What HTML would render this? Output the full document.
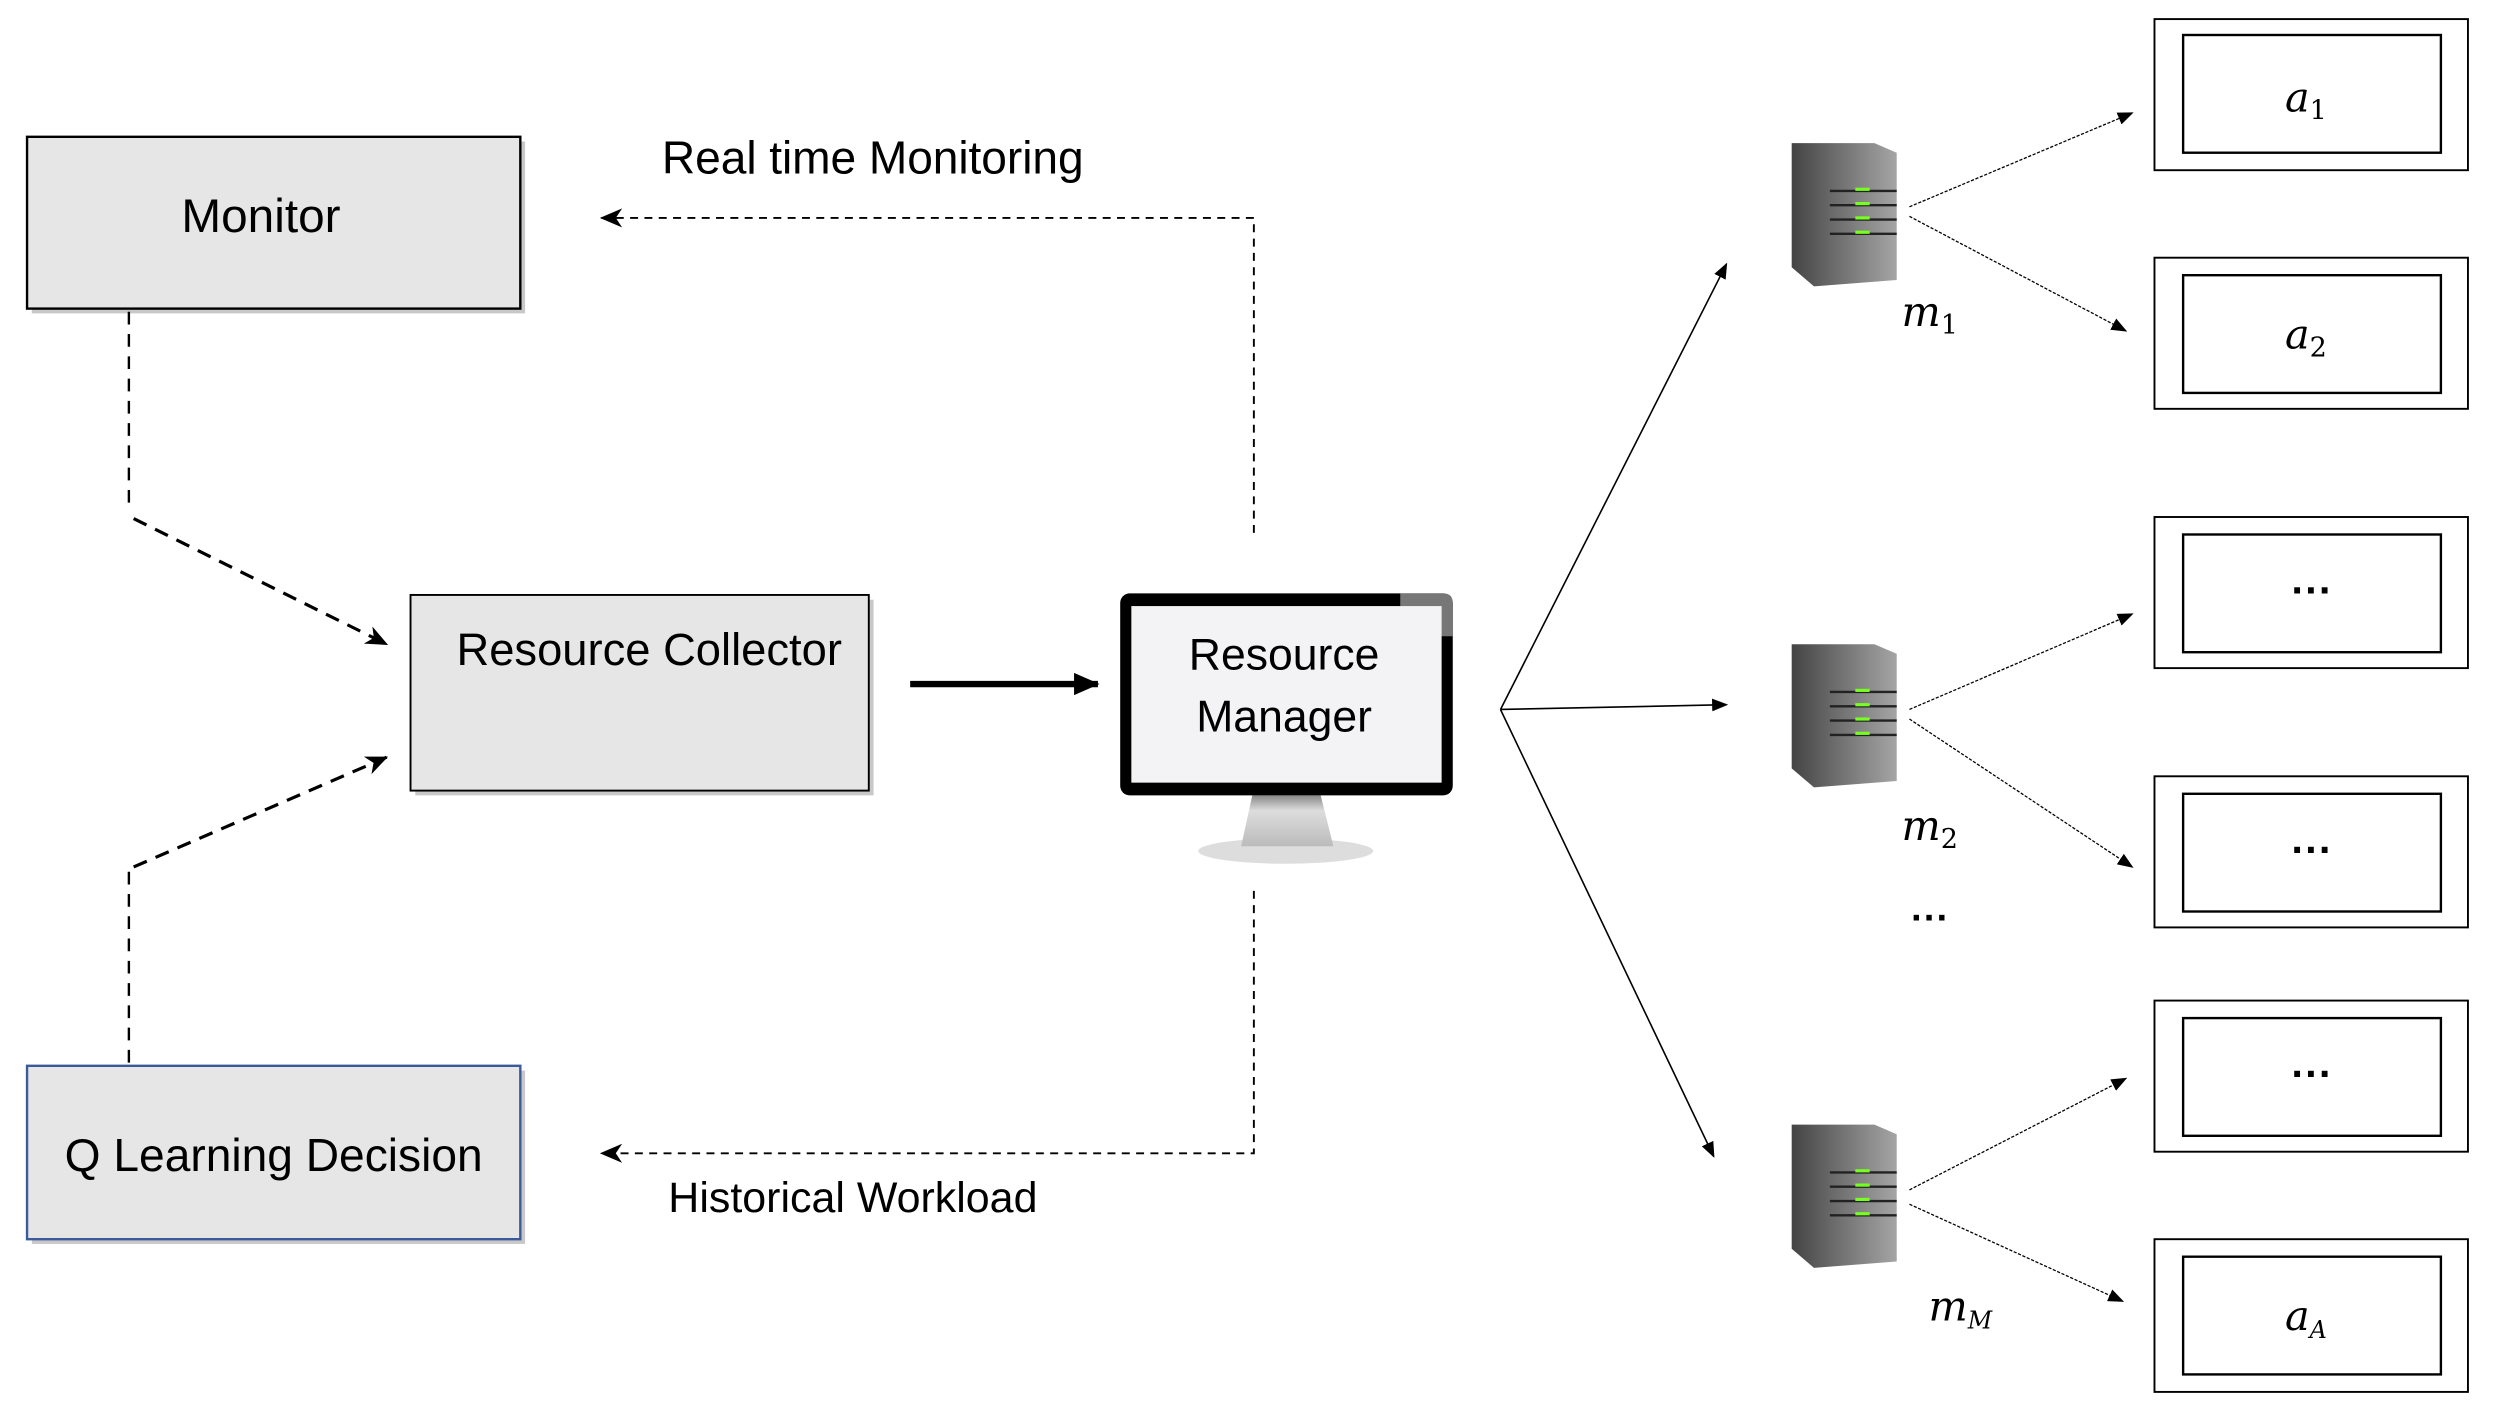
<!DOCTYPE html>
<html><head><style>html,body{margin:0;padding:0;background:#fff}svg{display:block}</style></head>
<body>
<svg width="2495" height="1411" viewBox="0 0 1568 887" preserveAspectRatio="none" xmlns="http://www.w3.org/2000/svg" font-family="Liberation Sans, sans-serif">
<defs>
<marker id="ah" markerWidth="10" markerHeight="8" refX="9" refY="4" orient="auto" markerUnits="userSpaceOnUse"><path d="M0,0 L10,4 L0,8 z" fill="#000"/></marker>
<marker id="ah2" markerWidth="14" markerHeight="12" refX="13" refY="6" orient="auto" markerUnits="userSpaceOnUse"><path d="M0,0 L14,6 L0,12 L4,6 z" fill="#000"/></marker>
<marker id="ah3" markerWidth="16" markerHeight="14" refX="15" refY="7" orient="auto" markerUnits="userSpaceOnUse"><path d="M0,0 L16,7 L0,14 z" fill="#000"/></marker>
<linearGradient id="srv" x1="0" x2="1"><stop offset="0" stop-color="#444"/><stop offset="0.35" stop-color="#666"/><stop offset="1" stop-color="#a5a5a5"/></linearGradient>
<linearGradient id="stand" x1="0" y1="0" x2="0" y2="1"><stop offset="0" stop-color="#888"/><stop offset="0.3" stop-color="#ddd"/><stop offset="1" stop-color="#bbb"/></linearGradient>
</defs>
<rect x="20" y="89" width="310" height="108" fill="#c8c8c8"/>
<rect x="17" y="86" width="310" height="108" fill="#e6e6e6" stroke="#000" stroke-width="1.5"/>
<text x="164" y="146" font-size="30" text-anchor="middle">Monitor</text>
<rect x="261" y="377" width="288" height="123" fill="#c8c8c8"/>
<rect x="258" y="374" width="288" height="123" fill="#e6e6e6" stroke="#000" stroke-width="1.2"/>
<text x="408" y="418" font-size="28.5" text-anchor="middle">Resource Collector</text>
<rect x="20" y="673" width="310" height="109" fill="#c8c8c8"/>
<rect x="17" y="670" width="310" height="109" fill="#e6e6e6" stroke="#3a5a9a" stroke-width="1.5"/>
<text x="172" y="736" font-size="29" text-anchor="middle">Q Learning Decision</text>
<path d="M81,196 L81,322" stroke="#000" stroke-width="1.5" stroke-dasharray="8,6" fill="none"/>
<path d="M84,326 L243,405" stroke="#000" stroke-width="2" stroke-dasharray="9,6" fill="none" marker-end="url(#ah2)"/>
<path d="M81,668 L81,548" stroke="#000" stroke-width="1.5" stroke-dasharray="8,6" fill="none"/>
<path d="M84,545 L243,476" stroke="#000" stroke-width="2" stroke-dasharray="9,6" fill="none" marker-end="url(#ah2)"/>
<path d="M788,335 L788,137 L378,137" stroke="#000" stroke-width="1.2" stroke-dasharray="5,4" fill="none" marker-end="url(#ah2)"/>
<path d="M788,560 L788,725 L378,725" stroke="#000" stroke-width="1.2" stroke-dasharray="5,4" fill="none" marker-end="url(#ah2)"/>
<text x="416" y="109" font-size="29" textLength="265">Real time Monitoring</text>
<text x="420" y="762" font-size="27" textLength="232">Historical Workload</text>
<line x1="572" y1="430" x2="690" y2="430" stroke="#000" stroke-width="4" marker-end="url(#ah3)"/>
<ellipse cx="808" cy="535" rx="55" ry="8" fill="#ddd"/>
<path d="M787,500 L830,500 L838,532 L780,532 z" fill="url(#stand)"/>
<rect x="704" y="373" width="209" height="127" rx="6" fill="#000"/>
<path d="M880,373 L907,373 Q913,373 913,379 L913,400 L880,400 z" fill="#777"/>
<rect x="711" y="381" width="195" height="111" fill="#f3f3f5"/>
<text x="807" y="421" font-size="28" text-anchor="middle">Resource</text>
<text x="807" y="460" font-size="28" text-anchor="middle">Manager</text>
<g stroke="#000" stroke-width="1" fill="none">
<line x1="943" y1="446" x2="1085" y2="166" marker-end="url(#ah)"/>
<line x1="943" y1="446" x2="1085" y2="443" marker-end="url(#ah)"/>
<line x1="943" y1="446" x2="1077" y2="727" marker-end="url(#ah)"/>
</g>
<g id="s1">
<path d="M1126,90 L1178,90 L1192,96 L1192,176 L1140,180 L1126,168 z" fill="url(#srv)"/>
<g stroke="#222" stroke-width="1.5"><line x1="1150" y1="120" x2="1192" y2="120"/><line x1="1150" y1="129" x2="1192" y2="129"/><line x1="1150" y1="138" x2="1192" y2="138"/><line x1="1150" y1="147" x2="1192" y2="147"/></g>
<g stroke="#7f2" stroke-width="2"><line x1="1166" y1="119" x2="1175" y2="119"/><line x1="1166" y1="128" x2="1175" y2="128"/><line x1="1166" y1="137" x2="1175" y2="137"/><line x1="1166" y1="146" x2="1175" y2="146"/></g>
</g>
<use href="#s1" transform="translate(0,315)"/>
<use href="#s1" transform="translate(0,617)"/>
<g font-family="DejaVu Serif, Liberation Serif, serif" font-style="italic">
<text x="1195" y="205" font-size="26">m<tspan font-size="17" font-style="normal" dy="5">1</tspan></text>
<text x="1195" y="528" font-size="26">m<tspan font-size="17" font-style="normal" dy="5">2</tspan></text>
<text x="1212" y="830" font-size="26">m<tspan font-size="15" dy="5">M</tspan></text>
</g>
<text x="1213" y="585" font-size="24" text-anchor="middle" font-weight="bold">···</text>
<g stroke="#000" stroke-width="0.8" stroke-dasharray="2,1" fill="none">
<line x1="1200" y1="130" x2="1340" y2="71" marker-end="url(#ah)"/>
<line x1="1200" y1="136" x2="1336" y2="208" marker-end="url(#ah)"/>
<line x1="1200" y1="446" x2="1340" y2="386" marker-end="url(#ah)"/>
<line x1="1200" y1="452" x2="1340" y2="545" marker-end="url(#ah)"/>
<line x1="1200" y1="748" x2="1336" y2="678" marker-end="url(#ah)"/>
<line x1="1200" y1="757" x2="1334" y2="818" marker-end="url(#ah)"/>
</g>
<g fill="none" stroke="#000">
<rect x="1354" y="12" width="197" height="95" stroke-width="1.2"/><rect x="1372" y="22" width="162" height="74" stroke-width="1.5"/>
<rect x="1354" y="162" width="197" height="95" stroke-width="1.2"/><rect x="1372" y="173" width="162" height="74" stroke-width="1.5"/>
<rect x="1354" y="325" width="197" height="95" stroke-width="1.2"/><rect x="1372" y="336" width="162" height="74" stroke-width="1.5"/>
<rect x="1354" y="488" width="197" height="95" stroke-width="1.2"/><rect x="1372" y="499" width="162" height="74" stroke-width="1.5"/>
<rect x="1354" y="629" width="197" height="95" stroke-width="1.2"/><rect x="1372" y="640" width="162" height="74" stroke-width="1.5"/>
<rect x="1354" y="779" width="197" height="96" stroke-width="1.2"/><rect x="1372" y="790" width="162" height="74" stroke-width="1.5"/>
</g>
<g font-family="DejaVu Serif, Liberation Serif, serif" font-style="italic" font-size="26">
<text x="1436" y="70">a<tspan font-size="17" font-style="normal" dy="5">1</tspan></text>
<text x="1436" y="219">a<tspan font-size="17" font-style="normal" dy="5">2</tspan></text>
<text x="1436" y="836">a<tspan font-size="15" dy="5">A</tspan></text>
</g>
<g font-size="26" font-weight="bold" text-anchor="middle">
<text x="1453" y="380">···</text>
<text x="1453" y="543">···</text>
<text x="1453" y="684">···</text>
</g>
</svg>
</body></html>
